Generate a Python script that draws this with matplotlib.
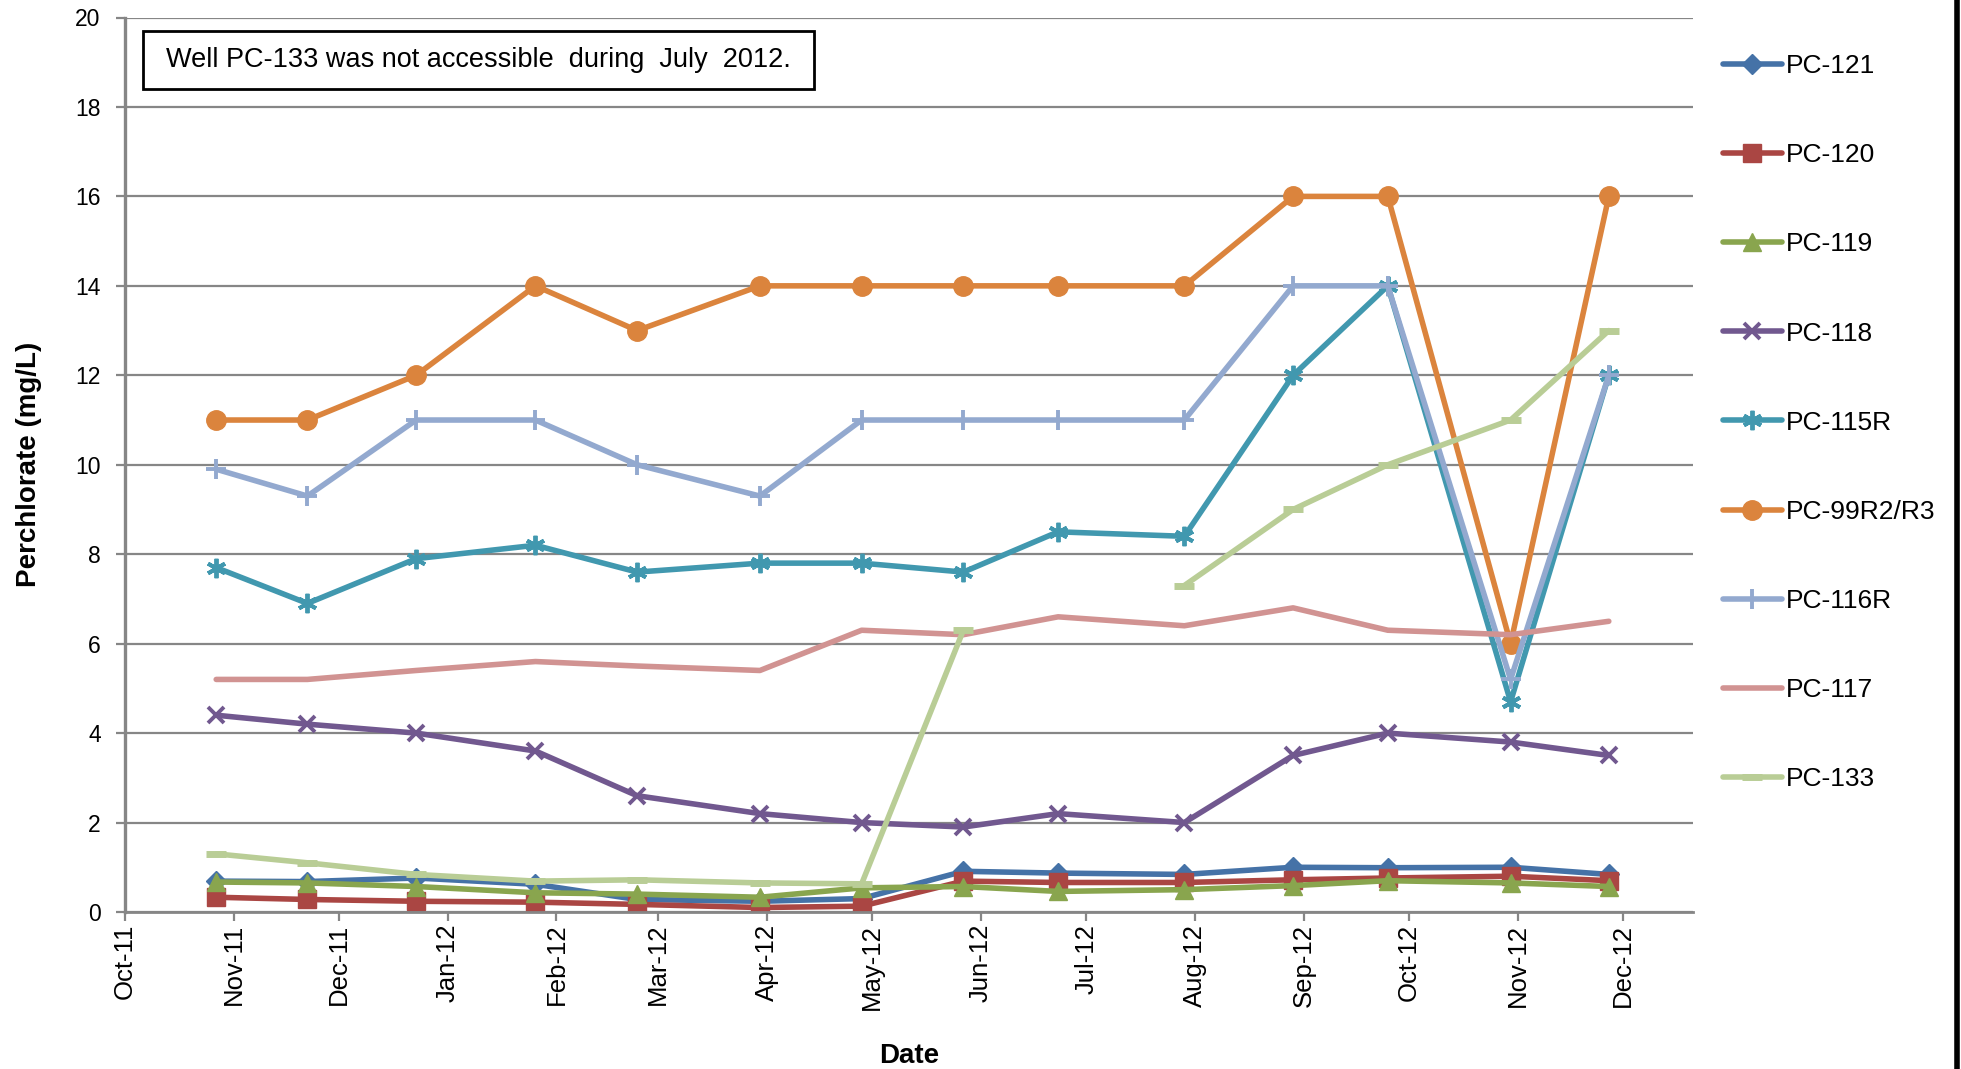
import numpy as np
import pandas as pd
import matplotlib
matplotlib.use("Agg")
import matplotlib.pyplot as plt
import matplotlib.dates as mdates
from matplotlib.lines import Line2D
from matplotlib.patches import Rectangle

# sampling dates (one round per month)
dates = ["2011-10-27", "2011-11-22", "2011-12-23", "2012-01-26", "2012-02-24",
         "2012-03-30", "2012-04-28", "2012-05-27", "2012-06-23", "2012-07-29",
         "2012-08-29", "2012-09-25", "2012-10-30", "2012-11-27"]

wells = ["PC-121", "PC-120", "PC-119", "PC-118", "PC-115R",
         "PC-99R2/R3", "PC-116R", "PC-117", "PC-133"]

pc121 = [0.69, 0.68, 0.76, 0.62, 0.28, 0.24, 0.30, 0.91, 0.87, 0.84, 1.00, 0.99, 1.00, 0.84]
pc120 = [0.33, 0.28, 0.24, 0.22, 0.17, 0.10, 0.13, 0.69, 0.66, 0.66, 0.72, 0.76, 0.80, 0.70]
pc119 = [0.67, 0.65, 0.57, 0.43, 0.40, 0.33, 0.54, 0.57, 0.46, 0.50, 0.59, 0.70, 0.65, 0.57]
pc118 = [4.4, 4.2, 4.0, 3.6, 2.6, 2.2, 2.0, 1.9, 2.2, 2.0, 3.5, 4.0, 3.8, 3.5]
pc115r = [7.7, 6.9, 7.9, 8.2, 7.6, 7.8, 7.8, 7.6, 8.5, 8.4, 12, 14, 4.7, 12]
pc99 = [11, 11, 12, 14, 13, 14, 14, 14, 14, 14, 16, 16, 6, 16]
pc116r = [9.9, 9.3, 11, 11, 10, 9.3, 11, 11, 11, 11, 14, 14, 5.2, 12]
pc117 = [5.2, 5.2, 5.4, 5.6, 5.5, 5.4, 6.3, 6.2, 6.6, 6.4, 6.8, 6.3, 6.2, 6.5]
pc133 = [1.3, 1.1, 0.84, 0.69, 0.72, 0.65, 0.63, 6.3, np.nan, 7.3, 9.0, 10.0, 11.0, 13.0]

series = [pc121, pc120, pc119, pc118, pc115r, pc99, pc116r, pc117, pc133]

colors = ["#4572A7", "#AA4643", "#89A54E", "#71588F", "#4198AF",
          "#DB843D", "#93A9CF", "#D19392", "#B9CD96"]
markers = ["D", "s", "^", "x", (6, 2, 0), "o", "+", None, "_"]
msizes = [10.5, 12.5, 13, 12, 14, 14, 15, 0, 14]

plt.rcParams["font.family"] = ["Liberation Sans", "DejaVu Sans"]

W, H = 1961, 1069
fig = plt.figure(figsize=(W / 100, H / 100), dpi=100)
ax = fig.add_axes([125 / W, 1 - 912 / H, (1693 - 125) / W, (912 - 17.5) / H])

x = pd.to_datetime(dates)
grid_c = "#868686"
for name, ys, c, m, ms in zip(wells, series, colors, markers, msizes):
    kw = dict(color=c, lw=4.0, label=name, solid_capstyle="round", solid_joinstyle="round")
    if m is not None:
        kw.update(marker=m, markersize=ms, markerfacecolor=c, markeredgecolor=c,
                  markeredgewidth=2.8 if m in ("x", "+", (6, 2, 0)) else 1)
    if m == "_":
        kw.update(markeredgewidth=5)
    ax.plot(x, ys, **kw)

ax.set_ylim(0, 20)
ax.set_yticks(np.arange(0, 21, 2))
ax.set_xlim(pd.Timestamp("2011-10-01"), pd.Timestamp("2012-12-21"))
ax.xaxis.set_major_locator(mdates.MonthLocator())
ax.xaxis.set_major_formatter(mdates.DateFormatter("%b-%y"))
ax.grid(axis="y", color=grid_c, lw=1.6)
ax.set_axisbelow(True)
for s in ("top", "right"):
    ax.spines[s].set_visible(False)
ax.spines["left"].set_color(grid_c)
ax.spines["left"].set_linewidth(2.4)
ax.spines["bottom"].set_color(grid_c)
ax.spines["bottom"].set_linewidth(2.0)
ax.tick_params(axis="both", direction="out", length=6.5, width=1.6, color=grid_c)
ax.tick_params(axis="y", labelsize=16.5, pad=11)
ax.tick_params(axis="x", labelsize=18.5, pad=2, labelrotation=90)

ax.set_ylabel("Perchlorate (mg/L)", fontsize=20, fontweight="bold", labelpad=24)
ax.set_xlabel("Date", fontsize=20, fontweight="bold", labelpad=24)

# note box
fig.add_artist(Rectangle((143 / W, 1 - 89 / H), (814 - 143) / W, 58 / H,
                         transform=fig.transFigure, fill=True, facecolor="white",
                         edgecolor="black", lw=2))
fig.text(478 / W, 1 - 60 / H, "Well PC-133 was not accessible  during  July  2012.",
         ha="center", va="center", fontsize=19.5)

fig.legend(loc="upper left", bbox_to_anchor=(1723 / W, 1 - 54 / H), frameon=False,
           fontsize=19, handlelength=2.23, handletextpad=0.15, labelspacing=2.47,
           borderpad=0, borderaxespad=0)

# chart border on the right
fig.add_artist(Line2D([1957 / W, 1957 / W], [0, 1], transform=fig.transFigure,
                      color="black", lw=4))

fig.savefig("out.png", dpi=100)
